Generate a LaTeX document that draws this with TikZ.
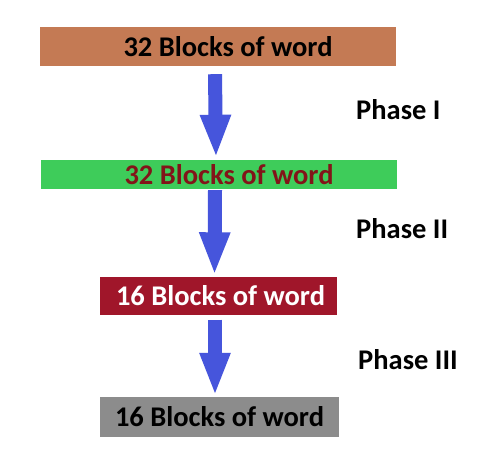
\documentclass[tikz,border=0pt]{standalone}
\usepackage{fontspec}
\setmainfont{Carlito}
\usetikzlibrary{arrows.meta}
\definecolor{brownbox}{RGB}{196,122,84}
\definecolor{greenbox}{RGB}{62,204,90}
\definecolor{redbox}{RGB}{160,22,42}
\definecolor{graybox}{RGB}{140,140,140}
\definecolor{darkred}{RGB}{130,20,25}
\definecolor{arrowblue}{RGB}{70,85,220}
\begin{document}
\begin{tikzpicture}[x=1pt,y=1pt,
  blockbox/.style={draw=none,inner sep=0pt,font=\fontsize{28.5}{30}\selectfont\bfseries},
  phaselabel/.style={anchor=west,inner sep=0pt,font=\fontsize{28.5}{30}\selectfont\bfseries},
  bigarrow/.style={draw=arrowblue,line width=14pt,line cap=butt,
     -{Triangle[width=28pt,length=43pt,fill=arrowblue]}}]
\useasboundingbox[fill=white] (0,0) rectangle (497,-457);
\node[blockbox,fill=brownbox,minimum width=356pt,minimum height=39pt,text=black] (b1) at (218,-46.5) {\hspace*{20pt}32 Blocks of word};
\node[blockbox,fill=greenbox,minimum width=356pt,minimum height=29pt,text=darkred] (b2) at (219,-174.5) {\hspace*{20pt}32 Blocks of word};
\node[blockbox,fill=redbox,minimum width=237pt,minimum height=38pt,text=white] (b3) at (218.5,-295.5) {\hspace*{4pt}16 Blocks of word};
\node[blockbox,fill=graybox,minimum width=239pt,minimum height=40pt,text=black] (b4) at (219.5,-417) {16 Blocks of word};
\draw[bigarrow] ([xshift=-3pt,yshift=-8pt]b1.south) -- ([xshift=-3pt,yshift=2pt]b2.north);
\draw[bigarrow] ([xshift=-4pt,yshift=-1pt]b2.south) -- ([xshift=-4pt,yshift=1pt]b3.north);
\draw[bigarrow] ([xshift=-3.5pt,yshift=-5pt]b3.south) -- ([xshift=-4.5pt,yshift=1pt]b4.north);
\node[phaselabel] (p1) at (356,-110) {Phase I};
\node[phaselabel] (p2) at (356,-229) {Phase II};
\node[phaselabel] (p3) at (358,-360) {Phase III};
\end{tikzpicture}
\end{document}
